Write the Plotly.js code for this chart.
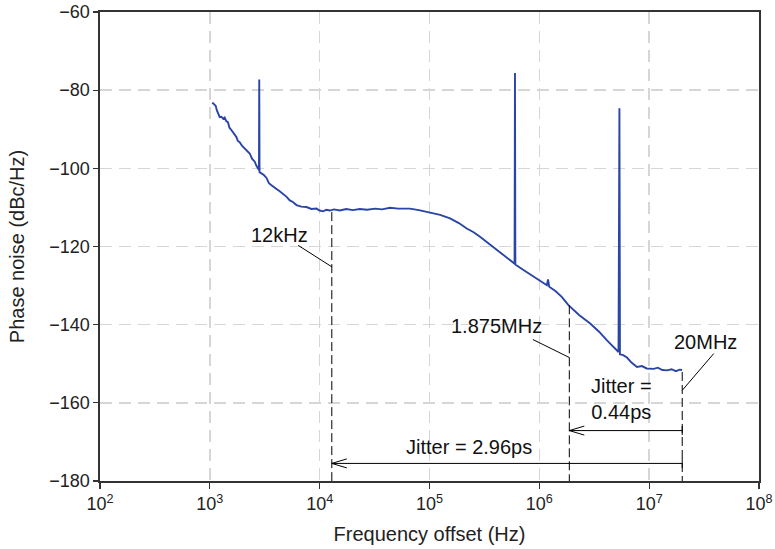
<!DOCTYPE html>
<html>
<head>
<meta charset="utf-8">
<script src="https://cdn.plot.ly/plotly-3.0.1.min.js"></script>
<style>html,body{margin:0;padding:0;background:#fff;}#chart{width:775px;height:549px;}</style>
</head>
<body>
<div id="chart"></div>
<script>
var freqHz = [
  1060, 1068, 1090, 1130, 1160, 1186, 1230, 1274, 1320, 1365, 1410, 1462, 1510, 1570, 1650, 1746, 1800, 1871,
  1960, 2080, 2190, 2307, 2430, 2564, 2650, 2748, 2800, 2818, 2835, 2951, 3100, 3273, 3450, 3639, 3850,
  4046, 4300, 4645, 5000, 5346, 5700, 6152, 6800, 7586, 8400, 9354, 10000, 10765, 11500, 12390, 13500,
  15240, 17500, 20000, 23230, 27000, 32000, 37000, 43650, 52000, 66370, 80000, 100900, 125000, 153800,
  185000, 218300, 250000, 288400, 320000, 356500, 420000, 500000, 570000, 595000, 600000, 605000, 700000,
  850000, 1000000, 1172000, 1200000, 1230000, 1400000, 1600000, 1841000, 2300000, 2904000, 3500000,
  4130000, 4700000, 5260000, 5360000, 5420000, 5800000, 6281000, 6900000, 7745000, 8600000, 9500000,
  10990000, 12000000, 13200000, 14550000, 16000000, 17500000, 19000000, 19950000
];
var phaseNoiseDb = [
  -83.6, -83.2, -83.6, -84.0, -85.2, -86.0, -86.9, -86.8, -87.3, -87.0, -87.9, -88.2, -89.6, -90.2, -91.2, -92.0, -93.0, -93.3,
  -94.2, -94.9, -95.6, -96.2, -97.6, -98.3, -99.3, -100.0, -100.4, -77.3, -101.0, -101.3, -101.7, -102.4, -103.8, -104.3, -104.9,
  -105.3, -105.8, -106.5, -107.3, -108.2, -108.6, -109.4, -109.8, -109.9, -110.4, -110.3, -110.8, -111.0, -110.6, -110.8, -110.5,
  -110.8, -110.4, -110.7, -110.4, -110.6, -110.3, -110.5, -110.1, -110.3, -110.3, -110.7, -111.4, -111.9, -112.8,
  -114.0, -115.4, -116.3, -117.5, -118.5, -119.7, -121.2, -122.8, -124.0, -124.4, -75.6, -124.6, -125.8,
  -127.3, -128.6, -129.9, -128.4, -130.3, -131.4, -132.9, -135.0, -137.5, -139.7, -141.8,
  -144.0, -145.6, -147.0, -84.6, -147.6, -147.8, -148.4, -149.7, -150.8, -150.6, -151.2,
  -151.3, -151.0, -151.6, -151.7, -151.4, -151.9, -151.5, -151.6
];
var xTickVals = [1e2, 1e3, 1e4, 1e5, 1e6, 1e7, 1e8];
var xTickText = ['10<sup>2</sup>', '10<sup>3</sup>', '10<sup>4</sup>', '10<sup>5</sup>', '10<sup>6</sup>', '10<sup>7</sup>', '10<sup>8</sup>'];
var yTickVals = [-180, -160, -140, -120, -100, -80, -60];
var yTickText = ['\u2212180', '\u2212160', '\u2212140', '\u2212120', '\u2212100', '\u221280', '\u221260'];

// integration limits and jitter results
var markerFreqs = [12900, 1875000, 20000000];
var markerLabels = ['12kHz', '1.875MHz', '20MHz'];
var markerTopDb = [-111.2, -135.05, -152.1];
var jitterTexts = ['Jitter =<br>0.44ps', 'Jitter = 2.96ps'];
var jitterArrowDb = [-167.1, -175.5];

var FONT = 'Liberation Sans, Arial, Helvetica, sans-serif';
var shapes = [];
var annotations = [];

// dashed vertical limit lines
for (var i = 0; i < markerFreqs.length; i++) {
  shapes.push({type: 'line', xref: 'x', yref: 'y', x0: markerFreqs[i], x1: markerFreqs[i],
    y0: markerTopDb[i], y1: -180, line: {color: '#000', width: 1, dash: '9px,4px'}});
}
// leader lines from labels
var leaders = [
  [6364, -119.7, 12900, -125.2],
  [873000, -143.8, 1875000, -148.4],
  [38700000, -147.4, 20000000, -156.8]
];
leaders.forEach(function (l) {
  shapes.push({type: 'line', xref: 'x', yref: 'y', x0: l[0], y0: l[1], x1: l[2], y1: l[3],
    line: {color: '#000', width: 1}});
});
// double arrows
var arrows = [
  [markerFreqs[1], markerFreqs[2], jitterArrowDb[0]],
  [markerFreqs[0], markerFreqs[2], jitterArrowDb[1]]
];
arrows.forEach(function (a) {
  shapes.push({type: 'line', xref: 'x', yref: 'y', x0: a[0], x1: a[1], y0: a[2], y1: a[2],
    line: {color: '#000', width: 1}});
  [[a[0], 15], [a[1], -15]].forEach(function (h) {
    [4.5, -4.5].forEach(function (dy) {
      shapes.push({type: 'line', xref: 'x', yref: 'y', xsizemode: 'pixel', ysizemode: 'pixel',
        xanchor: h[0], yanchor: a[2], x0: 0, x1: h[1], y0: 0, y1: dy,
        line: {color: '#000', width: 1}});
    });
  });
});

// text labels (annotation x on log axis is log10)
var labelPos = [[3.637, -117.1], [5.607, -140.4], [7.512, -144.5]];
for (var j = 0; j < markerLabels.length; j++) {
  annotations.push({xref: 'x', yref: 'y', x: labelPos[j][0], y: labelPos[j][1], text: markerLabels[j],
    showarrow: false, font: {family: FONT, size: 20, color: '#111'}});
}
annotations.push({xref: 'x', yref: 'y', x: 6.746, y: -159.1, text: jitterTexts[0], showarrow: false,
  font: {family: FONT, size: 20, color: '#111'}});
annotations.push({xref: 'x', yref: 'y', x: 5.359, y: -171.3, text: jitterTexts[1], showarrow: false,
  font: {family: FONT, size: 20, color: '#111'}});

var trace = {
  x: freqHz, y: phaseNoiseDb, type: 'scatter', mode: 'lines',
  line: {color: '#2b45a6', width: 1.9}, hoverinfo: 'skip'
};

var gridStyle = {gridcolor: '#d6d6d6', gridwidth: 1.5, griddash: '12px,7px'};

var layout = {
  width: 775, height: 549,
  margin: {l: 100, r: 16, t: 12, b: 68},
  paper_bgcolor: '#fff', plot_bgcolor: '#fff',
  showlegend: false,
  font: {family: FONT, size: 18, color: '#222'},
  xaxis: Object.assign({
    type: 'log', range: [2, 8], tickmode: 'array', tickvals: xTickVals, ticktext: xTickText,
    showline: true, linecolor: '#333', linewidth: 1.6, mirror: true,
    ticks: 'outside', ticklen: 6, tickwidth: 1.2, tickcolor: '#333',
    tickfont: {family: FONT, size: 18, color: '#222'},
    zeroline: false,
    title: {text: 'Frequency offset (Hz)', font: {family: FONT, size: 20, color: '#222'}, standoff: 14}
  }, gridStyle),
  yaxis: Object.assign({
    range: [-180, -60], tickmode: 'array', tickvals: yTickVals, ticktext: yTickText,
    showline: true, linecolor: '#333', linewidth: 1.6, mirror: true,
    ticks: 'outside', ticklen: 5, tickwidth: 1.2, tickcolor: '#333',
    tickfont: {family: FONT, size: 18, color: '#222'},
    zeroline: false,
    title: {text: 'Phase noise (dBc/Hz)', font: {family: FONT, size: 20, color: '#222'}, standoff: 19}
  }, gridStyle),
  shapes: shapes,
  annotations: annotations
};

Plotly.newPlot('chart', [trace], layout, {staticPlot: true, displayModeBar: false});
</script>
</body>
</html>
